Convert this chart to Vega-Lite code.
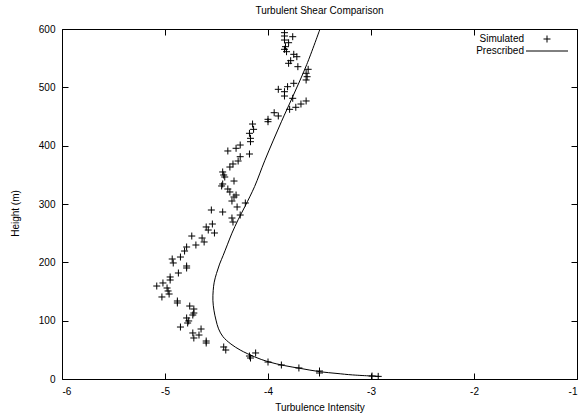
{
  "$schema": "https://vega.github.io/schema/vega-lite/v6.json",
  "width": 515,
  "height": 350,
  "autosize": {"type": "none"},
  "padding": {"left": 62, "top": 29, "right": 5, "bottom": 38},
  "background": "white",
  "title": {"text": "Turbulent Shear Comparison", "fontSize": 10, "fontWeight": "normal", "font": "Liberation Sans", "color": "black", "anchor": "middle", "offset": 8},
  "config": {
    "view": {"stroke": "black", "strokeWidth": 1},
    "font": "Liberation Sans",
    "axis": {"grid": false, "domain": false, "tickColor": "black", "tickSize": -6, "labelColor": "black", "labelFontSize": 10, "labelFont": "Liberation Sans", "titleFont": "Liberation Sans", "titleFontSize": 10, "titleFontWeight": "normal", "titleColor": "black"}
  },
  "datasets": {
    "sim": [
      {"intensity": -3.84, "height": 593.7, "series": "Simulated"},
      {"intensity": -3.84, "height": 588.0, "series": "Simulated"},
      {"intensity": -3.76, "height": 586.8, "series": "Simulated"},
      {"intensity": -3.84, "height": 581.1, "series": "Simulated"},
      {"intensity": -3.80, "height": 576.5, "series": "Simulated"},
      {"intensity": -3.83, "height": 569.7, "series": "Simulated"},
      {"intensity": -3.84, "height": 565.2, "series": "Simulated"},
      {"intensity": -3.82, "height": 561.1, "series": "Simulated"},
      {"intensity": -3.75, "height": 556.6, "series": "Simulated"},
      {"intensity": -3.72, "height": 552.5, "series": "Simulated"},
      {"intensity": -3.78, "height": 545.7, "series": "Simulated"},
      {"intensity": -3.80, "height": 541.2, "series": "Simulated"},
      {"intensity": -3.71, "height": 535.4, "series": "Simulated"},
      {"intensity": -3.61, "height": 530.9, "series": "Simulated"},
      {"intensity": -3.63, "height": 524.1, "series": "Simulated"},
      {"intensity": -3.62, "height": 518.2, "series": "Simulated"},
      {"intensity": -3.63, "height": 512.6, "series": "Simulated"},
      {"intensity": -3.75, "height": 506.9, "series": "Simulated"},
      {"intensity": -3.81, "height": 501.1, "series": "Simulated"},
      {"intensity": -3.90, "height": 496.6, "series": "Simulated"},
      {"intensity": -3.84, "height": 492.5, "series": "Simulated"},
      {"intensity": -3.84, "height": 485.1, "series": "Simulated"},
      {"intensity": -3.76, "height": 481.2, "series": "Simulated"},
      {"intensity": -3.63, "height": 476.6, "series": "Simulated"},
      {"intensity": -3.68, "height": 471.4, "series": "Simulated"},
      {"intensity": -3.73, "height": 465.8, "series": "Simulated"},
      {"intensity": -3.79, "height": 462.3, "series": "Simulated"},
      {"intensity": -3.94, "height": 456.5, "series": "Simulated"},
      {"intensity": -3.90, "height": 450.9, "series": "Simulated"},
      {"intensity": -4.00, "height": 445.2, "series": "Simulated"},
      {"intensity": -4.00, "height": 441.1, "series": "Simulated"},
      {"intensity": -4.15, "height": 437.1, "series": "Simulated"},
      {"intensity": -4.14, "height": 428.0, "series": "Simulated"},
      {"intensity": -4.18, "height": 421.2, "series": "Simulated"},
      {"intensity": -4.17, "height": 412.6, "series": "Simulated"},
      {"intensity": -4.17, "height": 406.8, "series": "Simulated"},
      {"intensity": -4.39, "height": 390.9, "series": "Simulated"},
      {"intensity": -4.31, "height": 395.5, "series": "Simulated"},
      {"intensity": -4.27, "height": 401.1, "series": "Simulated"},
      {"intensity": -4.27, "height": 381.1, "series": "Simulated"},
      {"intensity": -4.18, "height": 385.7, "series": "Simulated"},
      {"intensity": -4.29, "height": 373.7, "series": "Simulated"},
      {"intensity": -4.34, "height": 368.6, "series": "Simulated"},
      {"intensity": -4.37, "height": 363.4, "series": "Simulated"},
      {"intensity": -4.44, "height": 354.9, "series": "Simulated"},
      {"intensity": -4.43, "height": 349.7, "series": "Simulated"},
      {"intensity": -4.42, "height": 346.3, "series": "Simulated"},
      {"intensity": -4.33, "height": 339.4, "series": "Simulated"},
      {"intensity": -4.44, "height": 334.3, "series": "Simulated"},
      {"intensity": -4.45, "height": 330.9, "series": "Simulated"},
      {"intensity": -4.39, "height": 325.7, "series": "Simulated"},
      {"intensity": -4.37, "height": 320.6, "series": "Simulated"},
      {"intensity": -4.31, "height": 315.4, "series": "Simulated"},
      {"intensity": -4.33, "height": 312.0, "series": "Simulated"},
      {"intensity": -4.35, "height": 305.1, "series": "Simulated"},
      {"intensity": -4.22, "height": 301.7, "series": "Simulated"},
      {"intensity": -4.30, "height": 294.9, "series": "Simulated"},
      {"intensity": -4.55, "height": 289.7, "series": "Simulated"},
      {"intensity": -4.44, "height": 286.3, "series": "Simulated"},
      {"intensity": -4.27, "height": 281.1, "series": "Simulated"},
      {"intensity": -4.35, "height": 276.0, "series": "Simulated"},
      {"intensity": -4.34, "height": 269.1, "series": "Simulated"},
      {"intensity": -4.54, "height": 265.7, "series": "Simulated"},
      {"intensity": -4.60, "height": 260.6, "series": "Simulated"},
      {"intensity": -4.58, "height": 255.4, "series": "Simulated"},
      {"intensity": -4.52, "height": 250.3, "series": "Simulated"},
      {"intensity": -4.74, "height": 245.1, "series": "Simulated"},
      {"intensity": -4.64, "height": 241.7, "series": "Simulated"},
      {"intensity": -4.62, "height": 234.9, "series": "Simulated"},
      {"intensity": -4.70, "height": 229.7, "series": "Simulated"},
      {"intensity": -4.79, "height": 226.3, "series": "Simulated"},
      {"intensity": -4.81, "height": 219.4, "series": "Simulated"},
      {"intensity": -4.85, "height": 209.1, "series": "Simulated"},
      {"intensity": -4.93, "height": 205.7, "series": "Simulated"},
      {"intensity": -4.92, "height": 198.9, "series": "Simulated"},
      {"intensity": -4.79, "height": 193.7, "series": "Simulated"},
      {"intensity": -4.79, "height": 190.3, "series": "Simulated"},
      {"intensity": -4.87, "height": 181.7, "series": "Simulated"},
      {"intensity": -4.95, "height": 174.9, "series": "Simulated"},
      {"intensity": -4.95, "height": 169.7, "series": "Simulated"},
      {"intensity": -5.02, "height": 164.6, "series": "Simulated"},
      {"intensity": -5.08, "height": 159.4, "series": "Simulated"},
      {"intensity": -4.98, "height": 156.0, "series": "Simulated"},
      {"intensity": -4.97, "height": 150.9, "series": "Simulated"},
      {"intensity": -4.96, "height": 145.7, "series": "Simulated"},
      {"intensity": -5.03, "height": 140.6, "series": "Simulated"},
      {"intensity": -4.88, "height": 133.7, "series": "Simulated"},
      {"intensity": -4.88, "height": 130.3, "series": "Simulated"},
      {"intensity": -4.76, "height": 125.1, "series": "Simulated"},
      {"intensity": -4.72, "height": 120.0, "series": "Simulated"},
      {"intensity": -4.72, "height": 113.1, "series": "Simulated"},
      {"intensity": -4.73, "height": 109.7, "series": "Simulated"},
      {"intensity": -4.79, "height": 104.6, "series": "Simulated"},
      {"intensity": -4.77, "height": 99.5, "series": "Simulated"},
      {"intensity": -4.78, "height": 96.0, "series": "Simulated"},
      {"intensity": -4.85, "height": 89.1, "series": "Simulated"},
      {"intensity": -4.65, "height": 85.7, "series": "Simulated"},
      {"intensity": -4.73, "height": 78.9, "series": "Simulated"},
      {"intensity": -4.67, "height": 75.4, "series": "Simulated"},
      {"intensity": -4.72, "height": 70.3, "series": "Simulated"},
      {"intensity": -4.60, "height": 65.1, "series": "Simulated"},
      {"intensity": -4.60, "height": 61.7, "series": "Simulated"},
      {"intensity": -4.43, "height": 54.9, "series": "Simulated"},
      {"intensity": -4.41, "height": 49.7, "series": "Simulated"},
      {"intensity": -4.12, "height": 44.6, "series": "Simulated"},
      {"intensity": -4.18, "height": 39.4, "series": "Simulated"},
      {"intensity": -4.17, "height": 36.0, "series": "Simulated"},
      {"intensity": -4.00, "height": 29.1, "series": "Simulated"},
      {"intensity": -3.87, "height": 24.0, "series": "Simulated"},
      {"intensity": -3.70, "height": 18.9, "series": "Simulated"},
      {"intensity": -3.50, "height": 13.7, "series": "Simulated"},
      {"intensity": -3.50, "height": 10.3, "series": "Simulated"},
      {"intensity": -2.99, "height": 5.1, "series": "Simulated"},
      {"intensity": -2.93, "height": 4.5, "series": "Simulated"}
    ],
    "pres": [
      {"intensity": -2.92, "height": 4.5},
      {"intensity": -3.18, "height": 7.0},
      {"intensity": -3.33, "height": 9.5},
      {"intensity": -3.495, "height": 12.5},
      {"intensity": -3.69, "height": 18.3},
      {"intensity": -3.84, "height": 23.0},
      {"intensity": -4.0, "height": 29.7},
      {"intensity": -4.13, "height": 38.0},
      {"intensity": -4.27, "height": 49.7},
      {"intensity": -4.36, "height": 60.0},
      {"intensity": -4.437, "height": 72.5},
      {"intensity": -4.48, "height": 86.0},
      {"intensity": -4.505, "height": 101.0},
      {"intensity": -4.525, "height": 118.0},
      {"intensity": -4.535, "height": 135.0},
      {"intensity": -4.532, "height": 152.0},
      {"intensity": -4.522, "height": 166.0},
      {"intensity": -4.50, "height": 181.0},
      {"intensity": -4.47, "height": 197.0},
      {"intensity": -4.435, "height": 212.0},
      {"intensity": -4.395, "height": 230.0},
      {"intensity": -4.35, "height": 250.0},
      {"intensity": -4.29, "height": 273.0},
      {"intensity": -4.223, "height": 296.0},
      {"intensity": -4.13, "height": 330.0},
      {"intensity": -4.03, "height": 375.0},
      {"intensity": -3.87, "height": 441.0},
      {"intensity": -3.76, "height": 484.0},
      {"intensity": -3.624, "height": 539.0},
      {"intensity": -3.495, "height": 600.0}
    ]
  },
  "layer": [
    {
      "data": {"name": "sim"},
      "mark": {"type": "point", "filled": false, "color": "black", "strokeWidth": 1, "size": 49, "opacity": 1},
      "encoding": {
        "x": {"field": "intensity", "type": "quantitative", "scale": {"domain": [-6, -1], "nice": false, "zero": false},
              "axis": {"orient": "bottom", "values": [-6, -5, -4, -3, -2, -1], "title": "Turbulence Intensity", "labelPadding": 13, "titlePadding": 6, "labelExpr": "replace(datum.label, '\u2212', '-')"}},
        "y": {"field": "height", "type": "quantitative", "scale": {"domain": [0, 600], "nice": false, "zero": false},
              "axis": {"orient": "left", "values": [0, 100, 200, 300, 400, 500, 600], "title": "Height (m)", "labelPadding": 13, "titlePadding": 18, "titleY": 184}},
        "shape": {"field": "series", "type": "nominal",
                  "scale": {"domain": ["Simulated", "Prescribed"], "range": ["M-1,0L1,0M0,-1L0,1", "M-6,0L6,0"]},
                  "legend": {"title": null, "orient": "none", "legendX": 480, "legendY": 5, "labelAlign": "right", "labelOffset": -28, "labelFontSize": 10, "labelFont": "Liberation Sans", "labelColor": "black", "symbolSize": 49, "symbolStrokeWidth": 1, "symbolStrokeColor": "black", "symbolFillColor": "transparent", "rowPadding": 1, "padding": 0}}
      }
    },
    {
      "data": {"name": "pres"},
      "mark": {"type": "line", "color": "black", "strokeWidth": 1, "interpolate": "catmull-rom"},
      "encoding": {
        "x": {"field": "intensity", "type": "quantitative", "axis": {"orient": "top", "values": [-6, -5, -4, -3, -2, -1], "labels": false, "title": null}},
        "y": {"field": "height", "type": "quantitative", "axis": {"orient": "right", "values": [0, 100, 200, 300, 400, 500, 600], "labels": false, "title": null}},
        "order": {"field": "height", "type": "quantitative"}
      }
    }
  ],
  "resolve": {"axis": {"x": "independent", "y": "independent"}}
}
